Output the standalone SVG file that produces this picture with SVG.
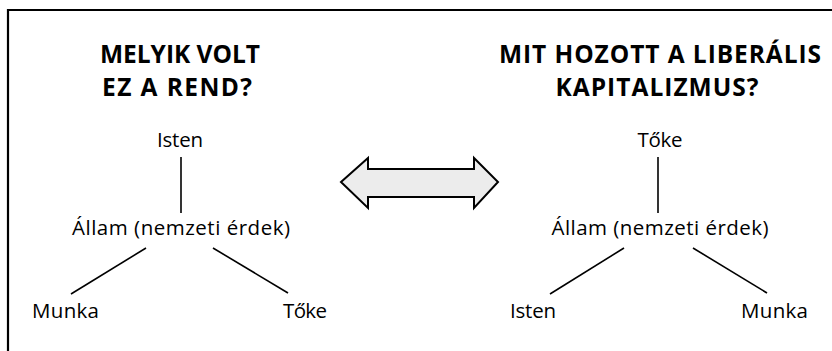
<svg xmlns="http://www.w3.org/2000/svg" width="832" height="351" viewBox="0 0 832 351">
<style>
.t{font-family:"Open Sans","Noto Sans",sans-serif;font-size:20.5px;fill:#000;text-anchor:middle}
.h{font-family:"Open Sans","Noto Sans",sans-serif;font-size:24.5px;font-weight:bold;fill:#000;text-anchor:middle}
.c{stroke:#000;stroke-width:1.6;fill:none}
</style>
<rect width="832" height="351" fill="#fff"/>
<path d="M8,351 V10 H832" fill="none" stroke="#000" stroke-width="2.2"/>
<g id="title-left">
<text class="h" x="180" y="63" textLength="160" lengthAdjust="spacing">MELYIK VOLT</text>
<text class="h" x="177" y="96" textLength="150" lengthAdjust="spacing">EZ A REND?</text>
</g>
<g id="title-right">
<text class="h" x="660" y="63" textLength="322" lengthAdjust="spacing">MIT HOZOTT A LIBERÁLIS</text>
<text class="h" x="657" y="96" textLength="203" lengthAdjust="spacing">KAPITALIZMUS?</text>
</g>
<g id="connectors">
<line class="c" x1="181" y1="157" x2="181" y2="213"/>
<line class="c" x1="146" y1="248" x2="71" y2="294"/>
<line class="c" x1="213" y1="248" x2="288" y2="293"/>
<line class="c" x1="658" y1="157" x2="658" y2="213"/>
<line class="c" x1="624" y1="248" x2="550" y2="294"/>
<line class="c" x1="693" y1="248" x2="767" y2="293"/>
</g>
<g id="double-arrow">
<path d="M341,182 L368,158 L368,169 L474,169 L474,158 L498,182 L474,208 L474,197 L368,197 L368,208 Z" fill="#ececec" stroke="#000" stroke-width="2"/>
</g>
<g id="l-isten"><text class="t" x="180" y="147" textLength="46" lengthAdjust="spacing">Isten</text></g>
<g id="l-allam"><text class="t" x="181" y="235" textLength="218" lengthAdjust="spacing">Állam (nemzeti érdek)</text></g>
<g id="l-munka"><text class="t" x="65.5" y="318" textLength="67" lengthAdjust="spacing">Munka</text></g>
<g id="l-toke"><text class="t" x="305" y="318" textLength="44" lengthAdjust="spacing">Tőke</text></g>
<g id="r-toke"><text class="t" x="660" y="147" textLength="45" lengthAdjust="spacing">Tőke</text></g>
<g id="r-allam"><text class="t" x="660" y="235" textLength="217" lengthAdjust="spacing">Állam (nemzeti érdek)</text></g>
<g id="r-isten"><text class="t" x="533" y="318" textLength="46" lengthAdjust="spacing">Isten</text></g>
<g id="r-munka"><text class="t" x="774.5" y="318" textLength="67" lengthAdjust="spacing">Munka</text></g>
</svg>
